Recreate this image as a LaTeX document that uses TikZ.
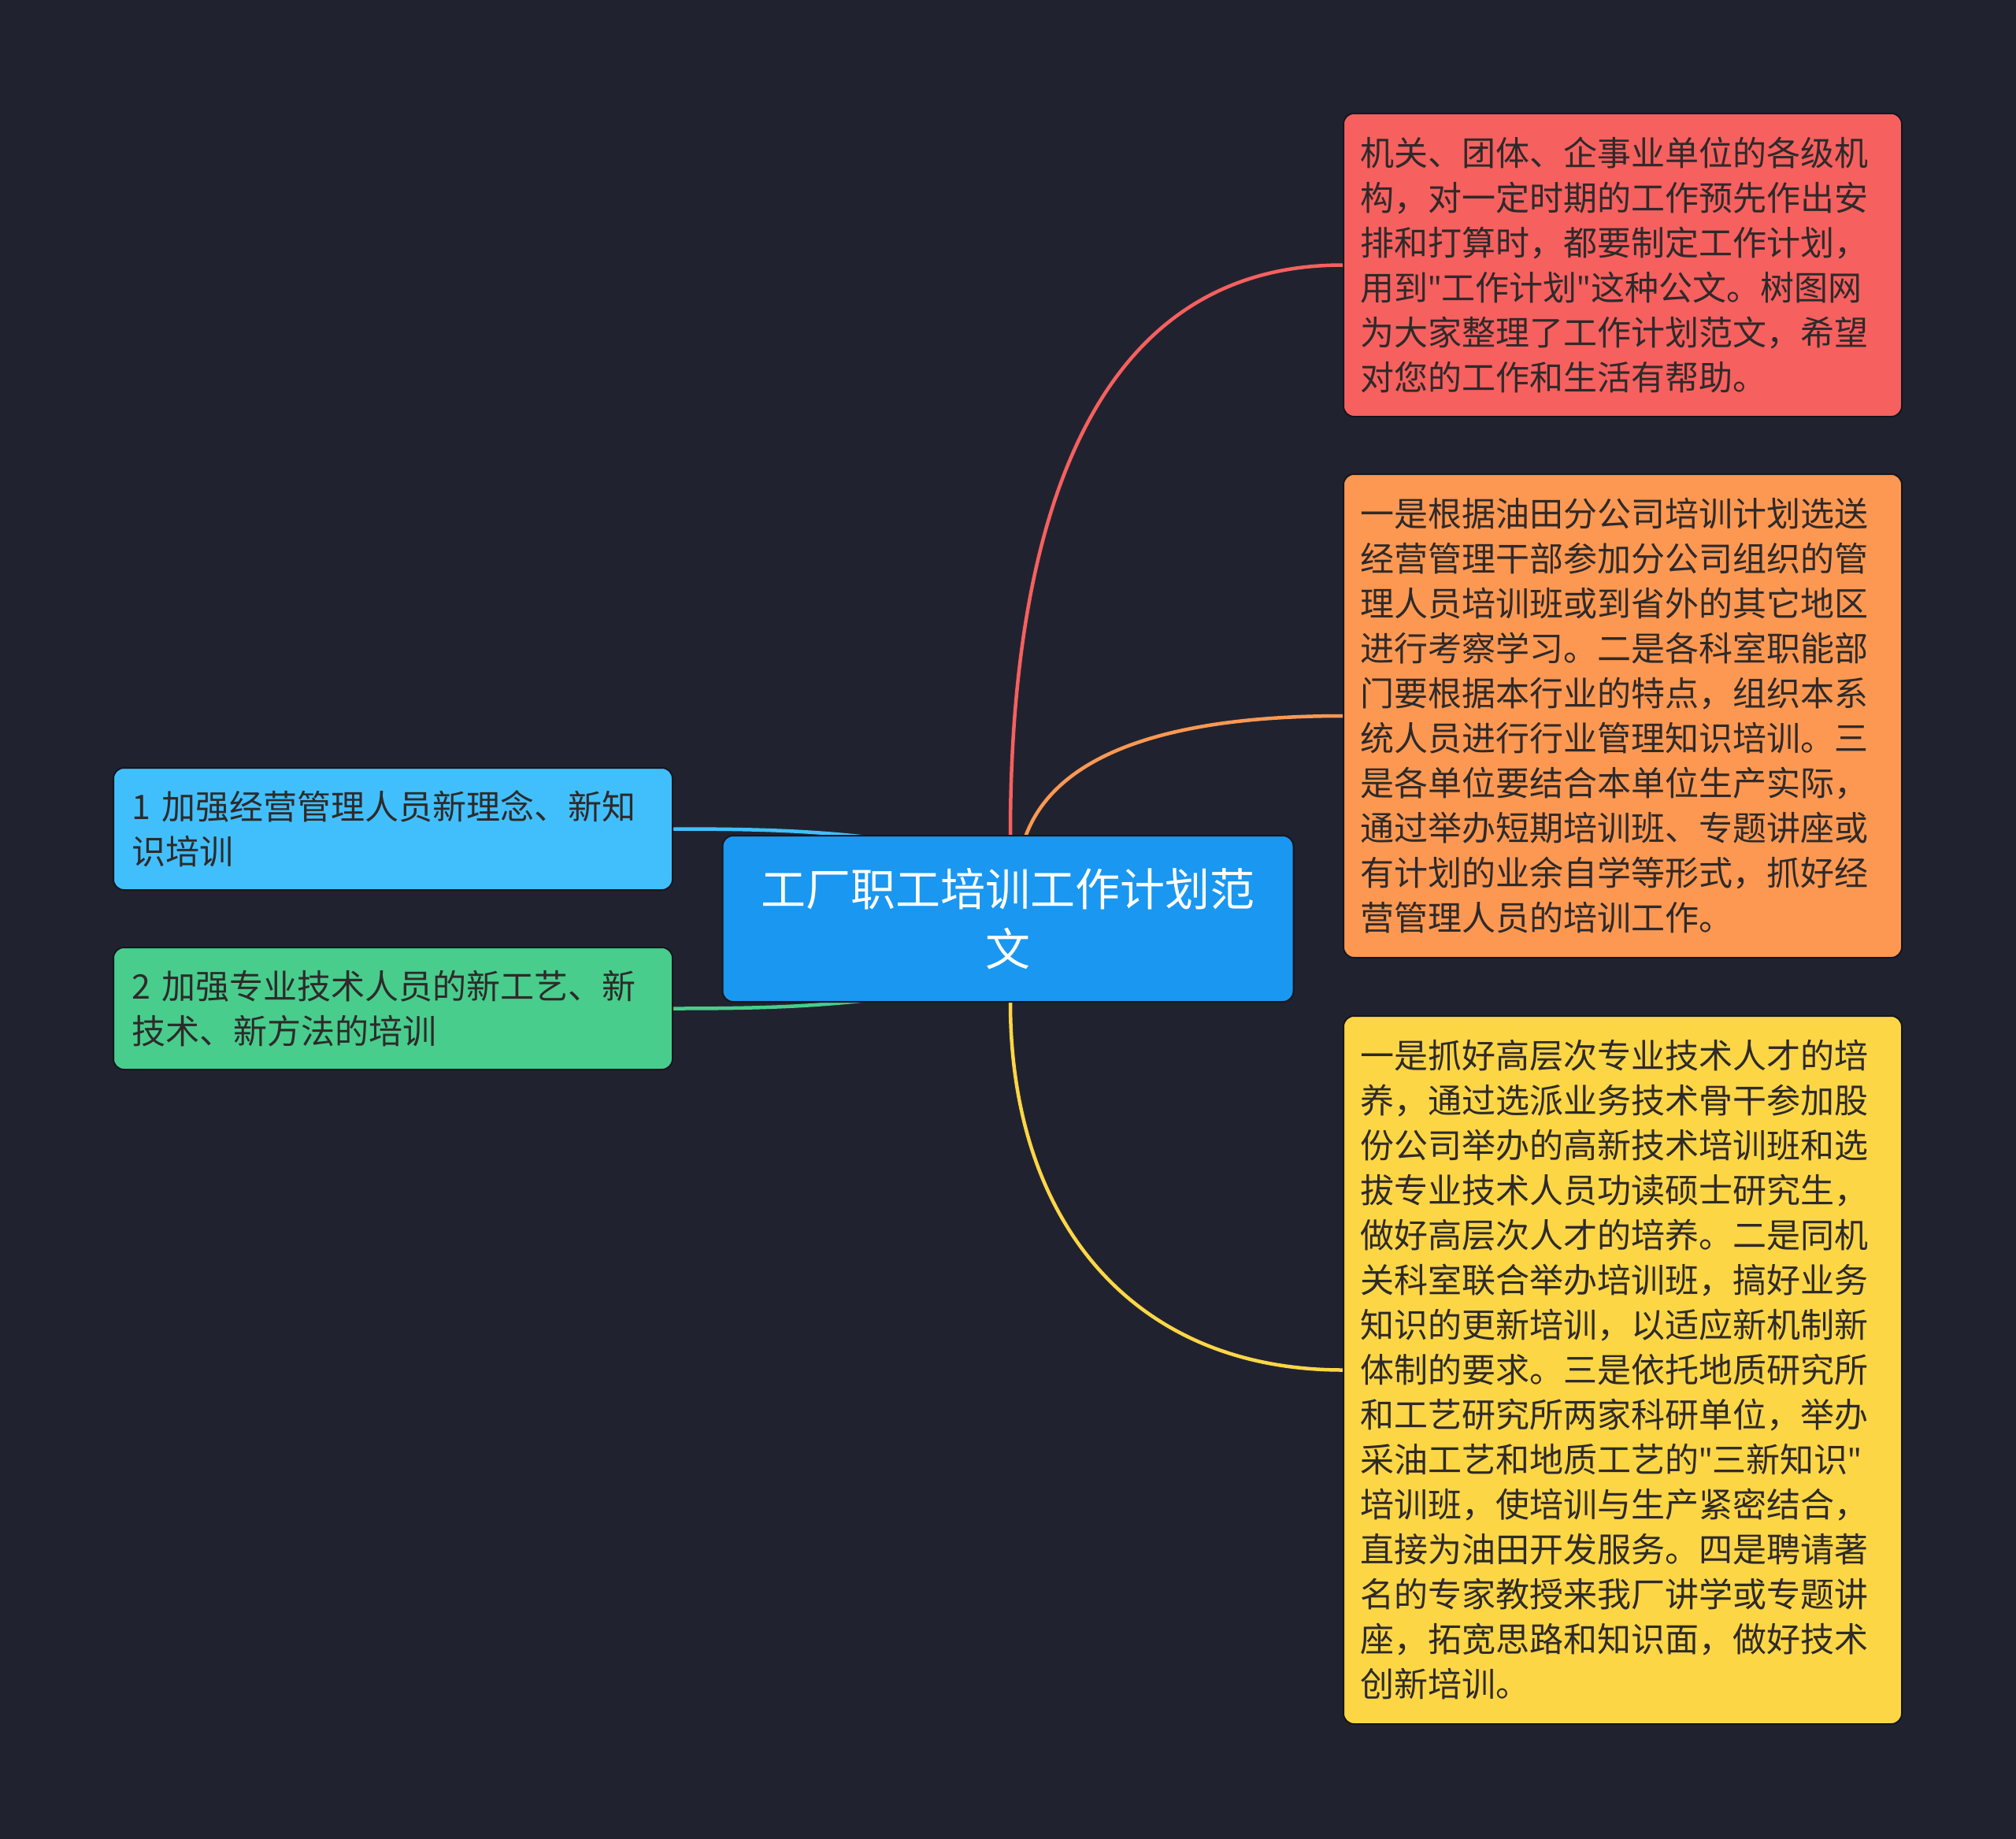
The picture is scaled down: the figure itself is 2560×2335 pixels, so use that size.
\documentclass[tikz,border=0pt]{standalone}
\usepackage{fontspec}
\setmainfont{Noto Sans CJK SC}
\newfontfamily\latinf{Noto Sans}
\newcommand{\sq}{{\latinf"}}
\usetikzlibrary{calc}
\definecolor{bgc}{HTML}{20232F}
\definecolor{rootc}{HTML}{1A97F0}
\definecolor{bluec}{HTML}{41BFFD}
\definecolor{greenc}{HTML}{48CD8D}
\definecolor{redc}{HTML}{F6605F}
\definecolor{orangec}{HTML}{FD9852}
\definecolor{yellowc}{HTML}{FDD646}
\definecolor{txt}{HTML}{2E2A2A}
\definecolor{edgec}{HTML}{14161E}
\pgfdeclarelayer{bgfill}
\pgfdeclarelayer{edges}
\pgfsetlayers{bgfill,edges,main}
\tikzset{
  box/.style={draw=edgec, line width=0.6pt, rounded corners=4pt, inner sep=0pt, text=txt},
  rightbox/.style={box, minimum width=212.7pt, text width=200pt, align=left,
     font=\fontsize{12.9pt}{17.1pt}\selectfont},
  leftbox/.style={box, minimum width=213pt, minimum height=46.5pt, text width=199pt, align=left,
     font=\fontsize{12.9pt}{17pt}\selectfont},
  rootbox/.style={box, fill=rootc, text=white, minimum width=217.5pt, minimum height=63.3pt,
     text width=205pt, align=center, font=\fontsize{17.1pt}{23pt}\selectfont},
  conn/.style={line width=1.35pt, line cap=round}
}
\begin{document}
\begin{tikzpicture}[x=0.3pt,y=-0.3pt]
\begin{pgfonlayer}{bgfill}
\fill[bgc] (0,0) rectangle (2560,2335);
\end{pgfonlayer}
\useasboundingbox (0,0) rectangle (2560,2335);

\node[rootbox] (root) at (1280,1166.5) {工厂职工培训工作计划范\\文};

\node[leftbox, fill=bluec] (l1) at (499,1052.5) {1 加强经营管理人员新理念、新知\\识培训};
\node[leftbox, fill=greenc] (l2) at (499,1280.5) {2 加强专业技术人员的新工艺、新\\技术、新方法的培训};

\node[rightbox, fill=redc, minimum height=115.5pt] (r1) at (2060.5,336.5) {机关、团体、企事业单位的各级机\\构，对一定时期的工作预先作出安\\排和打算时，都要制定工作计划，\\用到\sq 工作计划\sq 这种公文。树图网\\为大家整理了工作计划范文，希望\\对您的工作和生活有帮助。};

\node[rightbox, fill=orangec, minimum height=184.2pt] (r2) at (2060.5,909) {一是根据油田分公司培训计划选送\\经营管理干部参加分公司组织的管\\理人员培训班或到省外的其它地区\\进行考察学习。二是各科室职能部\\门要根据本行业的特点，组织本系\\统人员进行行业管理知识培训。三\\是各单位要结合本单位生产实际，\\通过举办短期培训班、专题讲座或\\有计划的业余自学等形式，抓好经\\营管理人员的培训工作。};

\node[rightbox, fill=yellowc, minimum height=269.7pt] (r3) at (2060.5,1739.5) {一是抓好高层次专业技术人才的培\\养，通过选派业务技术骨干参加股\\份公司举办的高新技术培训班和选\\拔专业技术人员功读硕士研究生，\\做好高层次人才的培养。二是同机\\关科室联合举办培训班，搞好业务\\知识的更新培训，以适应新机制新\\体制的要求。三是依托地质研究所\\和工艺研究所两家科研单位，举办\\采油工艺和地质工艺的\sq 三新知识\sq\\培训班，使培训与生产紧密结合，\\直接为油田开发服务。四是聘请著\\名的专家教授来我厂讲学或专题讲\\座，拓宽思路和知识面，做好技术\\创新培训。};

\coordinate (rA) at ($(root.north)+(3,0)$);
\coordinate (rB) at ($(root.north)+(23,0)$);
\coordinate (rC) at ($(root.south)+(3,0)$);
\coordinate (rL1) at ($(root.north west)+(203,5)$);
\coordinate (rL2) at ($(root.south west)+(203,-5)$);

\begin{pgfonlayer}{edges}
\draw[conn, redc] (rA) .. controls ($(rA)+(0,-361)$) and ($(r1.west)+(-336,0)$) .. (r1.west);
\draw[conn, orangec] (rB) .. controls ($(rB)+(27,-71)$) and ($(r2.west)+(-286,0)$) .. (r2.west);
\draw[conn, yellowc] (rC) .. controls ($(rC)+(0,278)$) and ($(r3.west)+(-266,0)$) .. (r3.west);
\draw[conn, bluec] (l1.east) .. controls ($(l1.east)+(106,0)$) and ($(l1.east)+(176,2)$) .. (rL1);
\draw[conn, greenc] (l2.east) .. controls ($(l2.east)+(106,0)$) and ($(l2.east)+(176,-2)$) .. (rL2);
\end{pgfonlayer}
\end{tikzpicture}
\end{document}
